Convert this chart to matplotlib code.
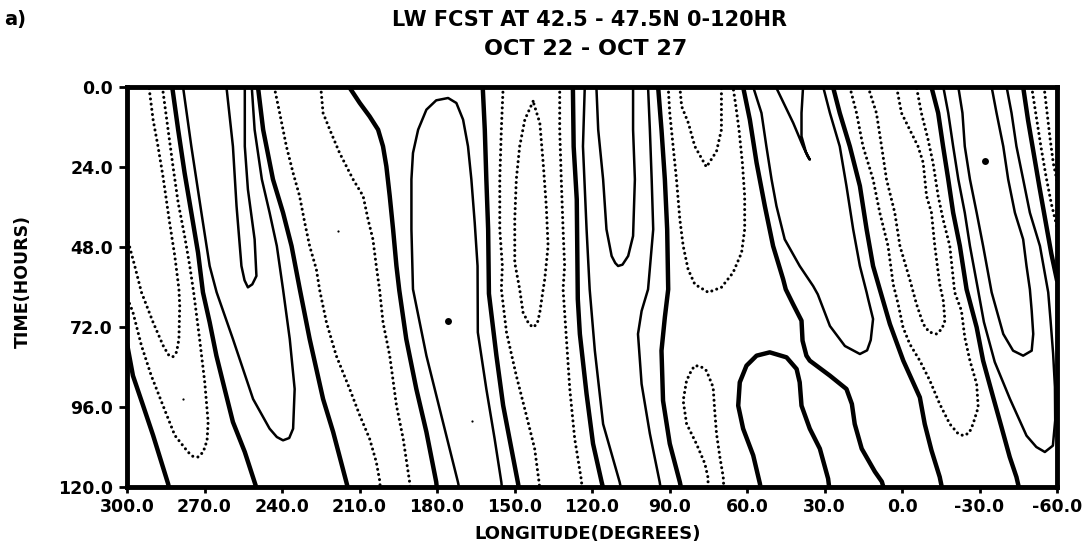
import matplotlib
matplotlib.use("Agg")
import matplotlib.pyplot as plt

# ---------------- data: contour lines (longitude deg, time hours) ----------------
# zero contours (thick)
z1_lon = [300, 297.7, 293.8, 289.9, 286.7, 284.1, 283.8]
z1_t = [77, 86.6, 95.5, 104.5, 112.5, 119, 120]
z2_lon = [282.5, 280.2, 277.7, 275.1, 272.5, 270.6, 268, 265.4, 262.2, 259, 254.4, 250]
z2_t = [0, 12.8, 25.8, 37.7, 49.7, 61.6, 70.6, 80.6, 90.6, 100.5, 109.5, 120]
z3_lon = [249.3, 247.3, 243.5, 239.6, 236.3, 233.1, 229.3, 224.1, 220.2, 215.1, 214.6]
z3_t = [0, 12.8, 27.7, 37.7, 47.7, 60.7, 75.6, 93.6, 103.5, 118.5, 120]
z4_lon = [214, 209.9, 206.1, 202.8, 200.9, 199.6, 198.3, 197, 195.7, 194.6, 191.9, 188, 184.1, 180.3, 180.1]
z4_t = [0, 4.8, 8.8, 12.8, 17.8, 23.8, 32.7, 42.7, 53.7, 61, 75.6, 90.6, 103.5, 118.5, 120]
z5_lon = [162.3, 161.5, 160.9, 160.2, 159.9, 157, 154.4, 151.2, 148.6, 148.4]
z5_t = [0, 12.8, 27.7, 42.7, 62, 80.6, 95.5, 108.5, 119, 120]
z6_lon = [127.4, 127.1, 125.9, 125.5, 124.7, 122.1, 119.6, 116.3, 115.8]
z6_t = [0, 17.9, 33.7, 63.6, 74.1, 92.1, 107, 118.4, 120]
z7_lon = [94.4, 93.1, 91.8, 90.9, 90.5, 91.8, 93.1, 92.5, 89.9, 86, 85.6]
z7_t = [0, 12.8, 27.7, 42.7, 60.7, 69.1, 79.1, 94.1, 107, 118.5, 120]
z8_lon = [61.5, 58.9, 56.3, 53.1, 49.9, 46, 45, 42.2, 38.9, 38.5, 37, 35.7, 27.9, 21.5, 19.4, 18.3, 15.6, 10.5, 7.8, 7.2]
z8_t = [0, 9.8, 22.7, 35.7, 47.7, 57.7, 60.7, 65.1, 70.1, 76.1, 80.6, 82.1, 86.6, 90.6, 95.1, 101.1, 108.5, 115.4, 118.4, 120]
z9_lon = [26.7, 24.1, 20.2, 16.3, 13.7, 11.2, 8.6, 4.7, -0.5, -6.9, -8.8, -11.4, -14.6, -15.4]
z9_t = [0, 7.8, 17.8, 29.7, 42.7, 53.7, 60.7, 71.1, 82.1, 93.1, 101.1, 109, 117, 120]
z10_lon = [-11.4, -14.0, -15.9, -17.9, -19.8, -22.4, -25.0, -28.9, -31.4, -35.3, -38.5, -41.7, -44.3, -45.2]
z10_t = [0, 7.8, 17.8, 27.7, 37.7, 47.7, 60.7, 72.1, 82.1, 93.1, 102, 111, 117, 120]
z11_lon = [-46.9, -48.8, -51, -53.2, -55.5, -57.8, -60]
z11_t = [0, 10, 20, 30, 40, 50, 58]
z12_lon = [54.8, 55, 57.6, 61.5, 63.4, 62.8, 60.2, 56.3, 51.2, 44.7, 40.8, 39.6, 38.9, 35.7, 31.8, 28.6, 28.2]
z12_t = [120, 119, 110.5, 102.5, 95.6, 88.6, 83.6, 80.6, 79.6, 81.1, 84.6, 88.6, 95.6, 102.5, 108.5, 117.5, 120]

# positive contours (thin solid)
p1_lon = [278.3, 275.1, 271.2, 268.0, 265.3, 259.0, 251.2, 244.8, 242, 239.6, 237.2, 235.7, 235.1, 237.0, 239.6, 242.0, 244.8, 247.8, 250.6, 251.7]
p1_t = [0, 17.8, 37.7, 53.7, 61.6, 75.6, 93.6, 102.5, 105, 106, 105.3, 102.5, 90.6, 75.6, 60.7, 47.7, 37.7, 27.7, 12.8, 0]
p2_lon = [261.5, 259.0, 257.6, 255.7, 254.5, 253.2, 251.5, 249.9, 250.6, 253.2, 254.4, 254.4]
p2_t = [0, 17.8, 35.7, 53.7, 58, 60.1, 59.2, 56.7, 45.7, 30.7, 17.8, 0]
p3_lon = [171.5, 171.9, 177.7, 184.1, 189.3, 189.9, 189.9, 189.3, 187.3, 184.1, 180.3, 175.7, 172.5, 169.9, 168, 166.7, 165.4, 164.3, 164.2, 160.9, 157.7, 155.1, 154.9]
p3_t = [120, 118.5, 100.5, 80.6, 60.65, 42.7, 27.7, 19.8, 12.8, 6.8, 4, 3.3, 4.8, 9.8, 17.8, 27.7, 40.7, 53.7, 73.6, 90.6, 105.5, 118.5, 120]
p4_lon = [122.8, 123.5, 122.1, 120.9, 118.9, 115.7, 109.3, 108.9]
p4_t = [0, 17.8, 42.7, 60.7, 79.1, 101.1, 118.5, 120]
p5_lon = [118.3, 117.6, 115.7, 114.4, 112.4, 111, 109.9, 108.2, 106, 104.1, 103.4, 104.1, 104.1]
p5_t = [0, 12.8, 27.7, 42.7, 50.7, 52.8, 53.7, 53.3, 50.7, 44.7, 27.7, 12.8, 0]
p6_lon = [98.3, 97.6, 96.9, 96.3, 98.3, 100.8, 102.2, 100.8, 97.6, 93.8, 93.5]
p6_t = [0, 12.8, 27.7, 42.7, 60.7, 67.2, 74.1, 89.1, 104, 118.5, 120]
p7_lon = [57.6, 54.4, 52.5, 50.5, 48.6, 45.4, 39.6, 34.4, 32.6, 27.9, 22.1, 16.3, 13.5, 12.1, 11.2, 13.1, 13.7, 16.3, 18.9, 21.5, 24.1, 27.9, 30.5]
p7_t = [0, 7.8, 17.8, 27.7, 35.7, 45.7, 53.7, 59.7, 62.2, 71.7, 77.7, 80.1, 79, 75.9, 69.6, 63.6, 61.6, 53.7, 42.7, 29.7, 17.8, 7.8, 0]
p8_lon = [48.8, 42.1, 38.3, 36.5, 35.7, 37.2, 38.9, 38.9, 38.3]
p8_t = [0, 10.8, 17.8, 20.8, 21.8, 19.5, 14.8, 7.8, 0]
p9_lon = [-16.0, -17.9, -19.8, -21.8, -24.3, -26.3, -29.4, -31.7, -35.9, -41.8, -48.2, -52, -55.3, -58.4, -59.3, -59.2, -58.5, -57.5, -56.6, -53.4, -49.5, -46.9, -44.3, -42.4, -40.5]
p9_t = [0, 7.8, 17.8, 27.7, 37.7, 47.7, 60.7, 70.5, 82.5, 93.6, 104.6, 108, 109.5, 107.6, 100, 90, 80, 70, 61.6, 47.7, 37.7, 27.7, 17.8, 7.8, 0]
p10_lon = [-21.8, -23.4, -24.3, -26.3, -28.9, -31.4, -34.7, -37, -39.2, -43.0, -46.9, -50.2, -50.8, -50.2, -49.5, -48.2, -46.9, -43.7, -41.1, -39.2, -36.6, -34.7]
p10_t = [0, 7.8, 17.8, 27.7, 37.7, 47.7, 61.6, 68, 74.1, 79.1, 80.6, 79.1, 74.1, 67.1, 60.7, 53.7, 45.7, 37.7, 27.7, 17.8, 7.8, 0]

# negative contours (dotted)
n1_lon = [300, 297, 294.4, 289.9, 286, 284, 282.3, 280.8, 279.9, 279.6, 279.9, 281.5, 283.5, 286.1, 288, 289.9, 291.2, 291.5]
n1_t = [45, 53.7, 61.6, 70.6, 77.6, 80.3, 81, 79.5, 75.6, 65.6, 60.6, 50.7, 40.7, 26.7, 17.8, 9.8, 1.8, 0]
n2_lon = [286.3, 284.1, 282.2, 280.2, 277.7, 275.7, 274.2, 271.9, 269.9, 268.6, 269, 270.5, 272.5, 274.5, 276.4, 281.5, 286.1, 290.6, 294.4, 297.7, 300]
n2_t = [0, 12.8, 23.8, 34.7, 44.7, 53.7, 61.6, 75.6, 88.6, 100.5, 106, 109.5, 111, 110.8, 109.5, 104.5, 95.5, 86.6, 77.6, 67.6, 63]
n3_lon = [243, 240.9, 238.3, 235.7, 233.2, 231.2, 229.3, 226.7, 225.4, 222.8, 219, 213.8, 209.9, 206.1, 203.5, 202.2, 202]
n3_t = [0, 7.8, 17.8, 25.8, 32.7, 40.7, 47.7, 54.7, 61, 70.6, 80.6, 90.6, 98.5, 105.5, 112.5, 118, 120]
n4_lon = [225, 224.1, 221.5, 217.7, 212.5, 208.6, 206.7, 204.8, 203.5, 202.2, 200.9, 198.3, 195.7, 193.1, 190.6, 190.4]
n4_t = [0, 7.8, 12.8, 19.8, 27.7, 32.7, 39.7, 45.7, 53.7, 61, 70.6, 80.6, 95.5, 105.5, 118.5, 120]
n5_lon = [154.4, 155.1, 155.7, 155.7, 154.7, 155.1, 153.1, 149.3, 145.4, 142.2, 140.5, 140.3]
n5_t = [0, 12.8, 27.7, 42.7, 53.7, 60.65, 73.6, 86.6, 98.5, 108.5, 118.5, 120]
n6_lon = [142.8, 146, 148, 149.3, 149.9, 149.9, 148, 146.7, 144.5, 142.8, 141.2, 140.2, 138.9, 138.3, 137, 137.7, 138.9, 140.2, 142.8]
n6_t = [4.3, 9.8, 17.8, 27.7, 39.7, 52.7, 60.65, 67.6, 71, 72.1, 71, 67.6, 60.65, 57.7, 47.7, 35.7, 22.8, 10.8, 4.3]
n7_lon = [132.5, 132.5, 131.9, 131.2, 130.6, 131.2, 129.9, 128.6, 126.7, 124.1, 123.9]
n7_t = [0, 12.8, 27.7, 42.7, 53.7, 60.65, 75.6, 90.6, 105.5, 118, 120]
n8_lon = [90.5, 89.9, 88.6, 87.3, 86.0, 84.7, 82.8, 80.2, 75.0, 69.9, 65.4, 62.1, 60.9, 60.9, 61.8, 63.1, 64.3, 65.4]
n8_t = [0, 7.8, 17.8, 27.7, 39.7, 47.7, 54.7, 59.2, 61.6, 60.1, 55.7, 49.7, 42.7, 32.7, 22.7, 12.8, 5.8, 0]
n9_lon = [86.0, 85.3, 82.7, 80.2, 75.7, 71.8, 69.9, 69.9, 69.9]
n9_t = [0, 5.8, 10.8, 17.8, 24.0, 19.3, 12.8, 5.8, 0]
n10_lon = [75.2, 75, 76.3, 79.6, 83.4, 84.7, 83.4, 81.5, 80.2, 78, 75.7, 73.1, 72.5, 71.8, 70.5, 69.2, 69]
n10_t = [120, 117.5, 113, 107, 101, 94.1, 88.1, 85, 83.6, 83.8, 85.1, 90.1, 97.1, 104, 111, 117, 120]
n11_lon = [20.2, 17.6, 15.1, 11.2, 8.6, 5.4, 3.4, 1.5, -0.4, -3.0, -6.9, -10.8, -14.6, -18.5, -21.5, -23.7, -26, -27.5, -29.5, -28.9, -26.3, -24.3, -23.0, -20.4, -18.5, -15.9, -14.0, -12.0, -10.1, -7.5, -5.6]
n11_t = [0, 7.8, 17.8, 27.7, 37.7, 47.7, 59.2, 65.1, 72.1, 77.1, 82.1, 88.1, 95.1, 101.1, 103.8, 104.6, 103.8, 101.1, 96.1, 89.1, 82.1, 75.1, 67.1, 61.6, 47.7, 39.7, 32.7, 22.7, 15.8, 7.8, 0]
n12_lon = [13.1, 9.9, 7.9, 6.0, 2.8, 0.8, -3.0, -5.6, -8.2, -10.5, -13.4, -15.5, -16.6, -16.0, -14.6, -12.7, -11.4, -9.5, -8.2, -6.2, -3.0, 0.2, 2.1]
n12_t = [0, 7.8, 17.8, 27.7, 37.7, 47.7, 57.7, 65.1, 71.1, 73.5, 74.1, 72.5, 70.1, 64.2, 59.2, 47.7, 37.7, 32.7, 22.7, 17.8, 12.8, 7.8, 0]
n13_lon = [-50.2, -51.8, -53.8, -55.8, -57.8, -60]
n13_t = [0, 8, 18, 27, 35, 42]
n14_lon = [-55, -56.2, -57.4, -58.6, -60]
n14_t = [0, 8, 16, 23, 28]

# small isolated spots
blob_lon = [175.7, -32.1]
blob_t = [70.1, 22.3]
speck_lon = [218.3, 166.6, 278.3]
speck_t = [43.2, 100.1, 93.6]

x_ticks = [300, 270, 240, 210, 180, 150, 120, 90, 60, 30, 0, -30, -60]
y_ticks = [0, 24, 48, 72, 96, 120]

title1 = "LW FCST AT 42.5 - 47.5N 0-120HR"
title2 = "OCT 22 - OCT 27"
panel = "a)"
xlabel = "LONGITUDE(DEGREES)"
ylabel = "TIME(HOURS)"

zero_lines = [(z1_lon, z1_t), (z2_lon, z2_t), (z3_lon, z3_t), (z4_lon, z4_t), (z5_lon, z5_t),
              (z6_lon, z6_t), (z7_lon, z7_t), (z8_lon, z8_t), (z9_lon, z9_t), (z10_lon, z10_t),
              (z11_lon, z11_t), (z12_lon, z12_t)]
pos_lines = [(p1_lon, p1_t), (p2_lon, p2_t), (p3_lon, p3_t), (p4_lon, p4_t), (p5_lon, p5_t),
             (p6_lon, p6_t), (p7_lon, p7_t), (p8_lon, p8_t), (p9_lon, p9_t), (p10_lon, p10_t)]
neg_lines = [(n1_lon, n1_t), (n2_lon, n2_t), (n3_lon, n3_t), (n4_lon, n4_t), (n5_lon, n5_t),
             (n6_lon, n6_t), (n7_lon, n7_t), (n8_lon, n8_t), (n9_lon, n9_t), (n10_lon, n10_t),
             (n11_lon, n11_t), (n12_lon, n12_t), (n13_lon, n13_t), (n14_lon, n14_t)]

# ---------------- drawing ----------------
plt.rcParams['font.family'] = ['DejaVu Sans']
W, H = 1088, 550
fig = plt.figure(figsize=(W / 100, H / 100), dpi=100)
ax = fig.add_axes([127 / W, 1 - 487 / H, (1057 - 127) / W, (487 - 87) / H])

for lo, tt in zero_lines:
    ax.plot(lo, tt, color='black', lw=3.2, solid_capstyle='round', solid_joinstyle='round')
for lo, tt in pos_lines:
    ax.plot(lo, tt, color='black', lw=1.8, solid_capstyle='round', solid_joinstyle='round')
for lo, tt in neg_lines:
    ax.plot(lo, tt, color='black', lw=2.2, linestyle=(0, (0.01, 1.7)), dash_capstyle='round')
ax.plot(blob_lon, blob_t, 'o', color='black', ms=5, mew=0)
ax.plot(speck_lon, speck_t, 'o', color='black', ms=1.6, mew=0)

ax.set_xlim(300, -60)
ax.set_ylim(120, 0)
ax.set_xticks(x_ticks)
ax.set_xticklabels([f"{v:.1f}" for v in x_ticks])
ax.set_yticks(y_ticks)
ax.set_yticklabels([f"{v:.1f}" for v in y_ticks])
for s in ax.spines.values():
    s.set_linewidth(3.5)
ax.tick_params(axis='x', direction='out', length=4, width=2, pad=4, labelsize=12.5)
ax.tick_params(axis='y', direction='out', length=6, width=2, pad=4, labelsize=12.5)
for lab in ax.get_xticklabels() + ax.get_yticklabels():
    lab.set_fontweight('bold')

fig.text(588 / W, 1 - 534 / H, xlabel, ha='center', va='center', fontsize=13, fontweight='bold')
fig.text(23 / W, 1 - 282 / H, ylabel, ha='center', va='center', rotation=90, fontsize=12.5, fontweight='bold')
fig.text(590 / W, 1 - 20 / H, title1, ha='center', va='center', fontsize=15, fontweight='bold')
fig.text(586 / W, 1 - 49 / H, title2, ha='center', va='center', fontsize=16, fontweight='bold')
fig.text(4 / W, 1 - 20 / H, panel, ha='left', va='center', fontsize=14, fontweight='bold')

fig.savefig("out.png", dpi=100)
